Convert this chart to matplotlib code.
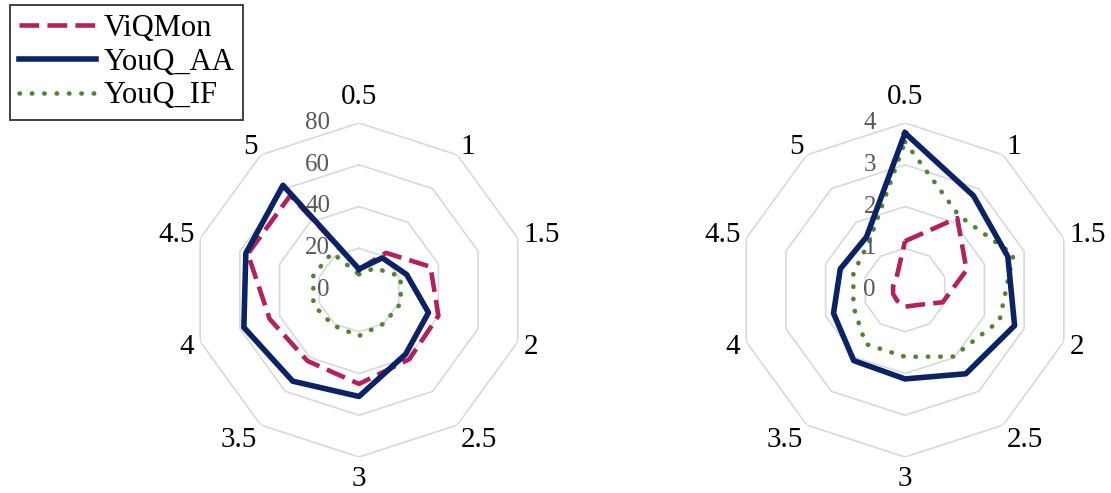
import matplotlib.pyplot as plt
import numpy as np

plt.rcParams['font.family'] = ['Liberation Serif', 'DejaVu Serif']

categories = ["0.5", "1", "1.5", "2", "2.5", "3", "3.5", "4", "4.5", "5"]

# left chart (0-80)
left_viqmon = [10, 22, 36, 40, 41, 45, 42, 45, 56, 56]
left_aa = [10, 19, 24, 35, 38, 51, 54, 58, 57, 62]
left_if = [7.5, 13, 21, 21, 20, 22, 21, 23, 23, 22]
left_ticks = [0, 20, 40, 60, 80]

# right chart (0-4)
right_viqmon = [1.17, 2.13, 1.55, 0.95, 0.45, 0.4, 0.32, 0.3, 0.3, 0.35]
right_aa = [3.76, 2.79, 2.59, 2.76, 2.48, 2.13, 2.09, 1.8, 1.63, 1.57]
right_if = [3.55, 2.2, 2.73, 2.38, 1.97, 1.6, 1.6, 1.3, 1.3, 1.45]
right_ticks = [0, 1, 2, 3, 4]

pink = "#B51F5C"
navy = "#0B2265"
green = "#548235"

W, H = 1111, 493
fig = plt.figure(figsize=(W / 100, H / 100), dpi=100)

angles = np.linspace(0, 2 * np.pi, len(categories), endpoint=False)
closed = np.append(angles, angles[0])


def radar(cx, cy, rad, series, ticks):
    ax = fig.add_axes([(cx - rad) / W, (H - cy - rad) / H, 2 * rad / W, 2 * rad / H],
                      projection="polar")
    ax.set_theta_offset(np.pi / 2)
    ax.set_theta_direction(-1)
    top = ticks[-1]
    ax.set_ylim(0, top)
    ax.grid(False)
    ax.spines["polar"].set_visible(False)
    ax.set_xticks([])
    ax.set_yticks([])
    ax.patch.set_alpha(0)
    for t in ticks[1:]:
        ax.plot(closed, [t] * len(closed), color="#D9D9D9", lw=1.2, zorder=1)
    for t in ticks:
        ax.annotate(str(t), xy=(0, t), xytext=(-29, 0), textcoords="offset pixels",
                    ha="right", va="center", fontsize=18, color="#595959",
                    annotation_clip=False)
    # category labels just outside the outer ring
    for ang, lab in zip(angles, categories):
        s, c = np.sin(ang), np.cos(ang)
        if abs(s) < 0.1:
            ha, dx = "center", 0
            dy = 26 * c if c > 0 else 22 * c
        else:
            ha = "left" if s > 0 else "right"
            dx = 6 * s
            dy = 10 * c if c > 0 else 18 * c
        ax.annotate(lab, xy=(ang, top), xytext=(dx, dy), textcoords="offset pixels",
                    ha=ha, va="center", fontsize=21, annotation_clip=False)
    vq, aa, iff = series
    l1, = ax.plot(closed, vq + vq[:1], color=pink, lw=3.3, ls=(0, (4.3, 1.8)),
                  label="ViQMon", zorder=3)
    l2, = ax.plot(closed, aa + aa[:1], color=navy, lw=4, label="YouQ_AA",
                  zorder=4)
    l3, = ax.plot(closed, iff + iff[:1], color=green, lw=3.3, ls=(0, (0.1, 2.6)),
                  dash_capstyle="round", label="YouQ_IF", zorder=2)
    return [l1, l2, l3]


handles = radar(359, 290, 167, (left_viqmon, left_aa, left_if), left_ticks)
radar(905, 290, 167, (right_viqmon, right_aa, right_if), right_ticks)

leg = fig.legend(handles=handles, loc="upper left", bbox_to_anchor=(10 / W, 1 - 5 / H),
                 fontsize=22, frameon=True, fancybox=False, handlelength=2.5,
                 handletextpad=0.25, borderpad=0.3, labelspacing=0.15,
                 borderaxespad=0)
leg.get_frame().set_edgecolor("black")
leg.get_frame().set_linewidth(1.3)

fig.savefig("out.png", dpi=100)
